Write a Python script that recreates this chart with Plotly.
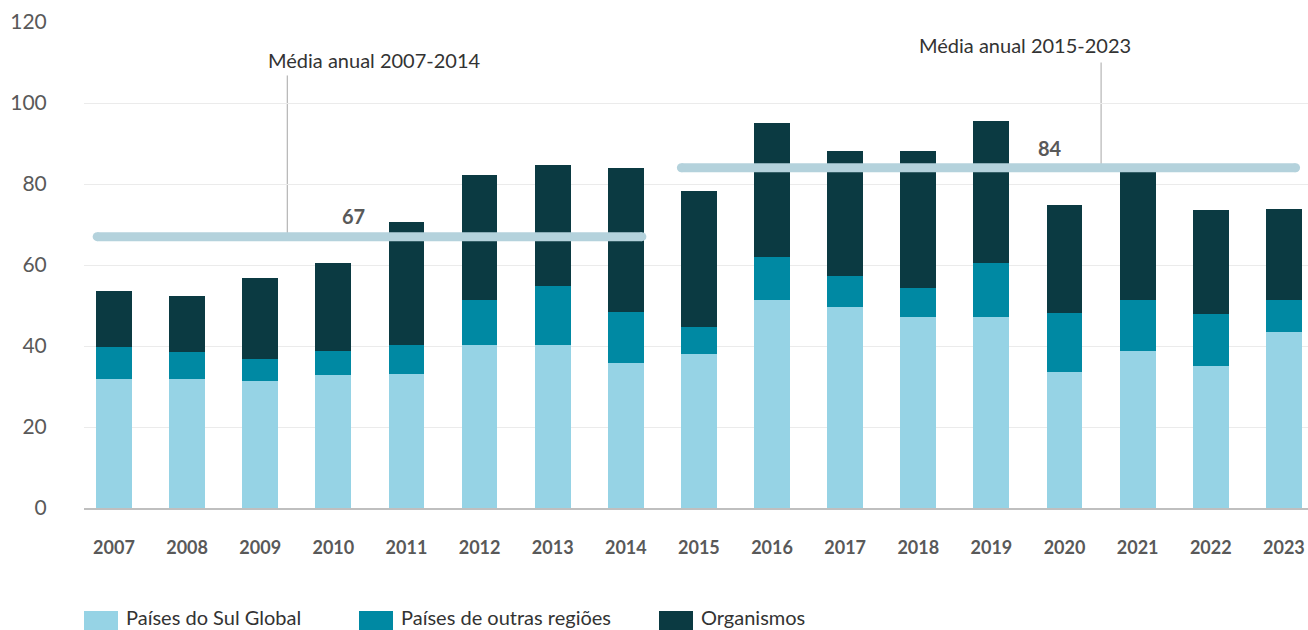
import plotly.graph_objects as go

years = list(range(2007, 2024))
sul_global = [31.8, 31.8, 31.3, 32.8, 33.0, 40.2, 40.2, 35.7, 38.0, 51.3, 49.6, 47.1, 47.1, 33.7, 38.7, 35.0, 43.4]
outras_regioes = [7.9, 6.7, 5.4, 5.9, 7.2, 11.1, 14.6, 12.6, 6.7, 10.7, 7.7, 7.2, 13.4, 14.4, 12.6, 12.9, 7.9]
organismos = [13.8, 13.8, 20.1, 21.8, 30.3, 30.9, 29.9, 35.7, 33.6, 33.0, 30.9, 33.9, 35.1, 26.7, 33.4, 25.7, 22.5]

series_names = ["Países do Sul Global", "Países de outras regiões", "Organismos"]
series_colors = ["#96D3E5", "#0089A3", "#0B3A42"]

avg_labels = ["Média anual 2007-2014", "Média anual 2015-2023"]
avg_values = [67, 84]
avg_spans = [(2006.77, 2014.22), (2014.76, 2023.16)]

avg_color = "#B4D2DC"
text_dark = "#333333"
text_grey = "#595959"
font_family = "Lato, 'Open Sans', sans-serif"

fig = go.Figure()

for name, vals, color in zip(series_names, [sul_global, outras_regioes, organismos], series_colors):
    fig.add_trace(go.Bar(
        x=years, y=vals, name=name, marker=dict(color=color, line=dict(width=0)),
        width=0.49, showlegend=False,
    ))

# Average lines with rounded ends
for (x0, x1), v in zip(avg_spans, avg_values):
    fig.add_trace(go.Scatter(
        x=[x0, x1], y=[v, v], mode="lines+markers",
        line=dict(color=avg_color, width=9),
        marker=dict(color=avg_color, size=9, line=dict(width=0)),
        showlegend=False, hoverinfo="skip",
    ))

# Callout text, connectors and value labels for the averages
callouts = [
    dict(text_x=2010.56, text_y=110.6, conn_x=2009.37, conn_top=106.8, val_x=2010.27, val_off=5.0),
    dict(text_x=2019.46, text_y=114.3, conn_x=2020.5, conn_top=110.0, val_x=2019.8, val_off=5.0),
]
annotations = []
shapes = []
for c, label, v in zip(callouts, avg_labels, avg_values):
    annotations.append(dict(
        x=c["text_x"], y=c["text_y"], xref="x", yref="y", text=label, showarrow=False,
        font=dict(family=font_family, size=20, color=text_dark), xanchor="center", yanchor="middle",
    ))
    shapes.append(dict(
        type="line", xref="x", yref="y", x0=c["conn_x"], x1=c["conn_x"], y0=c["conn_top"], y1=v,
        line=dict(color="#A6A6A6", width=1), layer="below",
    ))
    annotations.append(dict(
        x=c["val_x"], y=v + c["val_off"], xref="x", yref="y", text=f"<b>{v}</b>", showarrow=False,
        font=dict(family=font_family, size=20, color=text_grey), xanchor="center", yanchor="middle",
    ))

# Legend drawn as swatches and labels below the axis
legend_x = [84, 359, 659]
plot_left, plot_width = 84, 1224
plot_bottom, plot_height = 508, 486
def px_to_paper_x(px):
    return (px - plot_left) / plot_width
def py_to_paper_y(py):
    return (plot_bottom - py) / plot_height

for lx, name, color in zip(legend_x, series_names, series_colors):
    shapes.append(dict(
        type="rect", xref="paper", yref="paper",
        x0=px_to_paper_x(lx), x1=px_to_paper_x(lx + 34),
        y0=py_to_paper_y(611), y1=py_to_paper_y(632),
        fillcolor=color, line=dict(width=0),
    ))
    annotations.append(dict(
        x=px_to_paper_x(lx + 40), y=py_to_paper_y(617), xref="paper", yref="paper",
        text=name, showarrow=False, xanchor="left", yanchor="middle",
        font=dict(family=font_family, size=20, color=text_dark),
    ))

fig.update_layout(
    barmode="stack",
    width=1308, height=630,
    margin=dict(l=84, r=0, t=22, b=122),
    paper_bgcolor="white", plot_bgcolor="white",
    font=dict(family=font_family, color=text_grey),
    annotations=annotations, shapes=shapes,
    showlegend=False,
    bargap=0.5,
)
fig.update_xaxes(
    range=[2006.59, 2023.33], tickmode="array", tickvals=years,
    ticktext=[f"<b>{y}</b>" for y in years],
    tickfont=dict(family=font_family, size=18, color=text_grey),
    showgrid=False, zeroline=False, showline=True, linecolor="#BFBFBF", linewidth=2,
    ticks="outside", ticklen=22, tickcolor="rgba(0,0,0,0)",
)
fig.update_yaxes(
    range=[0, 120], tickvals=[0, 20, 40, 60, 80, 100, 120],
    tickfont=dict(family=font_family, size=21, color=text_grey),
    showgrid=True, gridcolor="#EBEBEB", gridwidth=1, zeroline=False, showline=False,
    ticks="outside", ticklen=32, tickcolor="rgba(0,0,0,0)",
)

fig.write_html("out.html")
